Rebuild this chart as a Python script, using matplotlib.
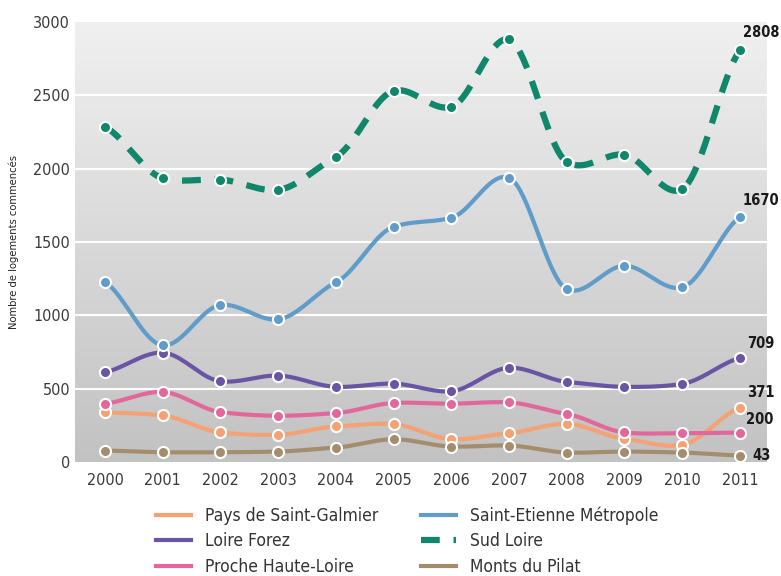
import matplotlib.pyplot as plt
import numpy as np

years = [2000, 2001, 2002, 2003, 2004, 2005, 2006, 2007, 2008, 2009, 2010, 2011]

galmier = [338, 317, 201, 185, 242, 258, 155, 196, 260, 157, 116, 371]
forez = [612, 745, 550, 589, 512, 534, 482, 642, 546, 512, 532, 709]
haute_loire = [397, 477, 340, 315, 333, 402, 397, 406, 327, 201, 196, 200]
metropole = [1228, 795, 1070, 972, 1224, 1603, 1664, 1938, 1178, 1338, 1190, 1670]
sud_loire = [2285, 1935, 1925, 1855, 2080, 2530, 2420, 2880, 2045, 2095, 1860, 2808]
pilat = [78, 66, 66, 71, 98, 155, 105, 112, 64, 71, 64, 43]

# police condensée
plt.rcParams['font.family'] = ['DejaVu Sans']
plt.rcParams['font.stretch'] = 'condensed'


def smooth(x, y, n=20, k=0.6):
    # courbe de Hermite (tangentes atténuées) entre les points
    x = np.asarray(x, float)
    y = np.asarray(y, float)
    m = np.gradient(y, x) * k
    xs, ys = [], []
    t = np.linspace(0, 1, n, endpoint=False)
    for i in range(len(x) - 1):
        h = x[i + 1] - x[i]
        h00 = 2 * t ** 3 - 3 * t ** 2 + 1
        h10 = t ** 3 - 2 * t ** 2 + t
        h01 = -2 * t ** 3 + 3 * t ** 2
        h11 = t ** 3 - t ** 2
        xs.extend(x[i] + h * t)
        ys.extend(h00 * y[i] + h10 * h * m[i] + h01 * y[i + 1] + h11 * h * m[i + 1])
    xs.append(x[-1])
    ys.append(y[-1])
    return np.array(xs), np.array(ys)


fig = plt.figure(figsize=(7.81, 5.76), dpi=100)
ax = fig.add_axes([0.096, 0.198, 0.886, 0.764])

# fond gris en dégradé
grad = np.linspace(0, 1, 256).reshape(-1, 1)
ax.imshow(grad, extent=[1999.48, 2011.47, 0, 3000], aspect='auto',
          cmap=plt.matplotlib.colors.LinearSegmentedColormap.from_list('g', ['#c2c2c2', '#f0f0f0']),
          origin='lower', zorder=0)
for v in [500, 1000, 1500, 2000, 2500]:
    ax.axhline(v, color='white', lw=1.5, zorder=1)

series = [
    ('Pays de Saint-Galmier', galmier, '#f4a273', '-'),
    ('Loire Forez', forez, '#6a55a4', '-'),
    ('Proche Haute-Loire', haute_loire, '#e2689c', '-'),
    ('Saint-Etienne Métropole', metropole, '#5f9cc9', '-'),
    ('Sud Loire', sud_loire, '#10876a', '--'),
    ('Monts du Pilat', pilat, '#a38d6c', '-'),
]

for name, vals, col, ls in series:
    sx, sy = smooth(years, vals)
    if ls == '--':
        ax.plot(sx, sy, color=col, lw=4.5, ls=(0, (3, 2.2)), label=name, zorder=3)
    else:
        ax.plot(sx, sy, color=col, lw=3, label=name, zorder=3)
    ax.plot(years, vals, 'o', color=col, mec='white', mew=1.5, ms=8, zorder=4)

# valeurs 2011
offsets = {'Sud Loire': (0.05, 120), 'Saint-Etienne Métropole': (0.05, 115),
           'Loire Forez': (0.12, 100), 'Pays de Saint-Galmier': (0.12, 100),
           'Proche Haute-Loire': (0.1, 90), 'Monts du Pilat': (0.22, 0)}
for name, vals, col, ls in series:
    dx, dy = offsets[name]
    ax.text(2011 + dx, vals[-1] + dy, str(vals[-1]), fontsize=10.5,
            fontweight='bold', color='#1a1a1a', va='center', ha='left', clip_on=False)

ax.set_xlim(1999.48, 2011.47)
ax.set_ylim(0, 3000)
ax.set_xticks(years)
ax.set_yticks(range(0, 3001, 500))
ax.tick_params(axis='both', length=0, labelsize=11.5, labelcolor='#3a3a3a')
ax.tick_params(axis='x', pad=8)
for s in ax.spines.values():
    s.set_visible(False)
ax.set_ylabel('Nombre de logements commencés', fontsize=8, color='#222222', labelpad=10)

ax.legend(loc='upper center', bbox_to_anchor=(0.48, -0.065), ncol=2, frameon=False,
          handlelength=2.0, columnspacing=2.5, labelspacing=0.45,
          prop={'family': 'DejaVu Sans', 'stretch': 'condensed', 'size': 12.5})
for t in ax.get_legend().get_texts():
    t.set_color('#333333')

fig.savefig('out.png', dpi=100)
